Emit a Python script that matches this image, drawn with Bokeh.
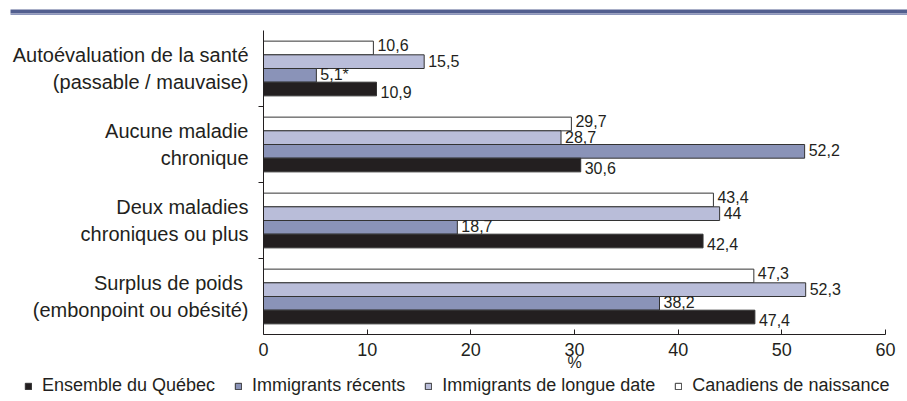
from bokeh.plotting import figure
from bokeh.models import (ColumnDataSource, Range1d, FixedTicker, Legend, LegendItem,
                          BoxAnnotation)
from bokeh.layouts import column
from bokeh.core.properties import value
from bokeh.embed import file_html
from bokeh.resources import INLINE

# ---------------- data ----------------
categories = [
    "Autoévaluation de la santé\n(passable / mauvaise)",
    "Aucune maladie\nchronique",
    "Deux maladies\nchroniques ou plus",
    "Surplus de poids \n(embonpoint ou obésité)",
]
series_names = ["Canadiens de naissance", "Immigrants de longue date",
                "Immigrants récents", "Ensemble du Québec"]
canadiens = [10.6, 29.7, 43.4, 47.3]
longue_date = [15.5, 28.7, 44.0, 52.3]
recents = [5.1, 52.2, 18.7, 38.2]
ensemble = [10.9, 30.6, 42.4, 47.4]
recents_flag = [True, False, False, False]   # estimation imprécise (*)
x_ticks = [0, 10, 20, 30, 40, 50, 60]

# ---------------- styles ----------------
FONT = "Liberation Sans"
TXT = "#231f20"
fills = ["#ffffff", "#b9bdd9", "#8a93b8", "#231f20"]
offsets = [0.27, 0.09, -0.09, -0.27]
label_dy = [-3, -1, -1, 3]
bar_h = 0.18
W = 907


def bare(height, xr, yr):
    f = figure(width=W, height=height, toolbar_location=None, output_backend="svg",
               x_range=xr, y_range=yr, min_border=0,
               x_axis_location=None, y_axis_location=None)
    f.outline_line_color = None
    f.grid.visible = False
    f.frame_align = False
    return f


# ---- top decorative band ----
band = bare(15, Range1d(0, W), Range1d(15, 0))
band.add_layout(BoxAnnotation(left=10, right=W, top=9, bottom=13,
                              fill_color="#525f8f", fill_alpha=1, line_color=None))
band.add_layout(BoxAnnotation(left=10, right=W, top=13, bottom=15,
                              fill_color="#8d96bb", fill_alpha=1, line_color=None))

# ---- main chart ----
p = figure(width=W, height=358, toolbar_location=None, output_backend="svg",
           x_range=Range1d(0, 60), y_range=Range1d(0, 4),
           min_border_left=263, min_border_right=22, min_border_top=15,
           min_border_bottom=39)
p.outline_line_color = None
p.grid.visible = False
p.frame_align = False

n = len(categories)
centers = [n - 0.5 - i for i in range(n)]
all_vals = [canadiens, longue_date, recents, ensemble]
flags = [[False] * n, [False] * n, recents_flag, [False] * n]

for k, (name, vals) in enumerate(zip(series_names, all_vals)):
    labels = [(f"{v:g}".replace(".", ",") + ("*" if f else "")) for v, f in zip(vals, flags[k])]
    src = ColumnDataSource(dict(y=[c + offsets[k] for c in centers], v=vals, lab=labels))
    p.hbar(y="y", left=0, right="v", height=bar_h, source=src,
           fill_color=fills[k], line_color="#333333", line_width=1)
    p.text(x="v", y="y", text="lab", source=src, x_offset=4, y_offset=label_dy[k],
           text_font=value(FONT), text_font_size="16px", text_color=TXT,
           text_baseline="middle", text_align="left")

# x axis
xa = p.xaxis[0]
xa.ticker = FixedTicker(ticks=x_ticks)
xa.major_tick_in = 5
xa.major_tick_out = 0
xa.minor_tick_line_color = None
xa.major_label_text_font = FONT
xa.major_label_text_font_size = "18px"
xa.major_label_text_color = TXT
xa.major_label_standoff = 8
xa.axis_line_color = TXT
xa.major_tick_line_color = TXT
xa.axis_label = "%"
xa.axis_label_text_font = FONT
xa.axis_label_text_font_size = "16px"
xa.axis_label_text_font_style = "normal"
xa.axis_label_text_color = TXT
xa.axis_label_standoff = -5

# y axis
ya = p.yaxis[0]
ya.ticker = FixedTicker(ticks=centers, minor_ticks=[1, 2, 3])
ya.major_label_overrides = {c: lab for c, lab in zip(centers, categories)}
ya.major_tick_line_color = None
ya.major_tick_in = 0
ya.major_tick_out = 0
ya.minor_tick_in = 0
ya.minor_tick_out = 5
ya.minor_tick_line_color = TXT
ya.axis_line_color = TXT
ya.major_label_text_font = FONT
ya.major_label_text_font_size = "20px"
ya.major_label_text_color = TXT
ya.major_label_text_line_height = 1.2
ya.major_label_standoff = 10

# ---- legend strip (proxy glyphs lie outside the visible range) ----
leg = bare(27, Range1d(0, 1), Range1d(0, 1))
legend_order = ["Ensemble du Québec", "Immigrants récents",
                "Immigrants de longue date", "Canadiens de naissance"]
items = []
for nm in legend_order:
    k = series_names.index(nm)
    r = leg.hbar(y=[-5], left=[-5], right=[-4], height=0.1,
                 fill_color=fills[k], line_color="#333333", line_width=1)
    items.append(LegendItem(label=nm, renderers=[r]))
legend = Legend(items=items, orientation="horizontal", location=(24, 4),
                glyph_width=8, glyph_height=8, label_standoff=10, spacing=19,
                padding=0, margin=0, border_line_color=None, background_fill_alpha=0,
                label_text_font=FONT, label_text_font_size="18px", label_text_color=TXT,
                label_height=20)
leg.add_layout(legend, "center")

layout = column(band, p, leg, spacing=0)
open("out.html", "w").write(file_html(layout, INLINE))
